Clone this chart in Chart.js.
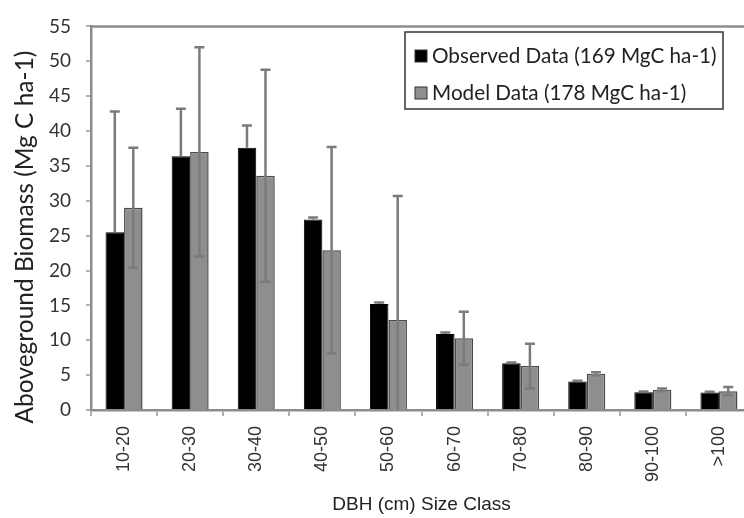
<!DOCTYPE html>
<html>
<head>
<meta charset="utf-8">
<script src="https://cdn.jsdelivr.net/npm/chart.js@4.4.0/dist/chart.umd.min.js"></script>
<style>
  html, body { margin: 0; padding: 0; background: #fff; overflow: hidden; }
  #wrap { width: 760px; height: 518px; }
</style>
</head>
<body>
<div id="wrap"><canvas id="chartOne"></canvas></div>
<script>
const sizeClasses = ['10-20', '20-30', '30-40', '40-50', '50-60', '60-70', '70-80', '80-90', '90-100', '>100'];
const observed = [25.5, 36.4, 37.6, 27.3, 15.2, 10.9, 6.7, 4.1, 2.55, 2.5];
const observedErr = [17.3, 6.8, 3.2, 0.3, 0.2, 0.2, 0.1, 0.1, 0.1, 0.1];
const modelled = [29.0, 37.0, 33.6, 22.9, 12.9, 10.3, 6.3, 5.2, 2.9, 2.7];
const modelledErr = [8.6, 15.0, 15.2, 14.8, 17.8, 3.8, 3.2, 0.2, 0.2, 0.6];

const axisGrey = '#8c8c8c';

// error bars drawn over the bars, with the y scale of the chart
const errorBars = {
    id: 'errorBars',
    afterDatasetsDraw(chart) {
        const ctx = chart.ctx;
        const y = chart.scales.y;
        const area = chart.chartArea;
        ctx.save();
        ctx.beginPath();
        ctx.rect(area.left, area.top, area.right - area.left, area.bottom - area.top);
        ctx.clip();
        ctx.strokeStyle = '#7b7b7b';
        ctx.lineWidth = 2.5;
        chart.data.datasets.forEach((ds, i) => {
            const meta = chart.getDatasetMeta(i);
            meta.data.forEach((bar, j) => {
                const v = ds.data[j];
                const e = ds.errors[j];
                const top = y.getPixelForValue(v + e);
                const bottom = ds.plusOnly ? y.getPixelForValue(v) : y.getPixelForValue(v - e);
                ctx.beginPath();
                ctx.moveTo(bar.x, bottom);
                ctx.lineTo(bar.x, top);
                ctx.moveTo(bar.x - 5, top);
                ctx.lineTo(bar.x + 5, top);
                if (!ds.plusOnly) {
                    ctx.moveTo(bar.x - 5, bottom);
                    ctx.lineTo(bar.x + 5, bottom);
                }
                ctx.stroke();
            });
        });
        ctx.restore();
    },
};

// top frame line and the boxed legend inside the plot
const frameAndLegend = {
    id: 'frameAndLegend',
    afterDraw(chart) {
        const ctx = chart.ctx;
        const area = chart.chartArea;
        ctx.save();
        ctx.strokeStyle = axisGrey;
        ctx.lineWidth = 2.5;
        ctx.beginPath();
        ctx.moveTo(area.left - 1, area.top);
        ctx.lineTo(chart.width, area.top);
        ctx.stroke();

        const bx = 405, by = 32, bw = 318, bh = 77;
        ctx.fillStyle = '#fff';
        ctx.fillRect(bx, by, bw, bh);
        ctx.strokeStyle = '#333';
        ctx.lineWidth = 1.5;
        ctx.strokeRect(bx, by, bw, bh);
        ctx.font = '20.7px Lato, "Open Sans", sans-serif';
        ctx.textBaseline = 'middle';
        chart.data.datasets.forEach((ds, i) => {
            const rowY = by + 23 + i * 37;
            ctx.fillStyle = ds.backgroundColor;
            ctx.fillRect(bx + 10, rowY - 5, 12, 12);
            ctx.strokeStyle = '#333';
            ctx.lineWidth = 1;
            ctx.strokeRect(bx + 10, rowY - 5, 12, 12);
            ctx.fillStyle = '#222';
            ctx.fillText(ds.label, bx + 27, rowY + 1);
        });
        ctx.restore();
    },
};

new Chart(document.getElementById('chartOne').getContext('2d'), {
    type: 'bar',
    data: {
        labels: sizeClasses,
        datasets: [{
            label: 'Observed Data (169 MgC ha-1)',
            data: observed,
            errors: observedErr,
            plusOnly: true,
            backgroundColor: '#000000',
            borderColor: '#000000',
            borderWidth: 1,
        }, {
            label: 'Model Data (178 MgC ha-1)',
            data: modelled,
            errors: modelledErr,
            backgroundColor: '#8e8e8e',
            borderColor: '#4a4a4a',
            borderWidth: 1.5,
        }],
    },
    plugins: [errorBars, frameAndLegend],
    options: {
        responsive: true,
        maintainAspectRatio: false,
        animation: false,
        layout: { padding: { top: 15, right: 8, left: 0, bottom: 0 } },
        categoryPercentage: 0.56,
        barPercentage: 1.0,
        plugins: {
            legend: { display: false },
            tooltip: { enabled: false },
        },
        scales: {
            x: {
                afterFit(scale) { scale.height = 108; },
                grid: { drawOnChartArea: false, tickLength: 6, color: '#b0b0b0', lineWidth: 2 },
                border: { color: axisGrey, width: 2.5 },
                ticks: {
                    minRotation: 90,
                    maxRotation: 90,
                    padding: 10,
                    color: '#333',
                    font: { family: '"Liberation Sans", Arial, sans-serif', size: 18 },
                },
                title: {
                    display: true,
                    text: 'DBH (cm) Size Class',
                    color: '#222',
                    padding: { top: 0, bottom: 2 },
                    font: { family: '"Liberation Sans", Arial, sans-serif', size: 19 },
                },
            },
            y: {
                min: 0,
                max: 55,
                afterFit(scale) { scale.width = 91; },
                grid: { drawOnChartArea: false, tickLength: 5, color: '#b0b0b0', lineWidth: 2 },
                border: { color: axisGrey, width: 2.5 },
                ticks: {
                    stepSize: 5,
                    padding: 15,
                    color: '#333',
                    font: { family: 'Lato, "Open Sans", sans-serif', size: 19 },
                },
                title: {
                    display: true,
                    // trailing spaces nudge the rotated title down a little
                    text: 'Aboveground Biomass (Mg C ha-1)\u00a0\u00a0\u00a0\u00a0\u00a0\u00a0',
                    color: '#222',
                    padding: { top: 10, bottom: 0 },
                    font: { family: 'Lato, "Open Sans", sans-serif', size: 24.5 },
                },
            },
        },
    },
});
</script>
</body>
</html>
